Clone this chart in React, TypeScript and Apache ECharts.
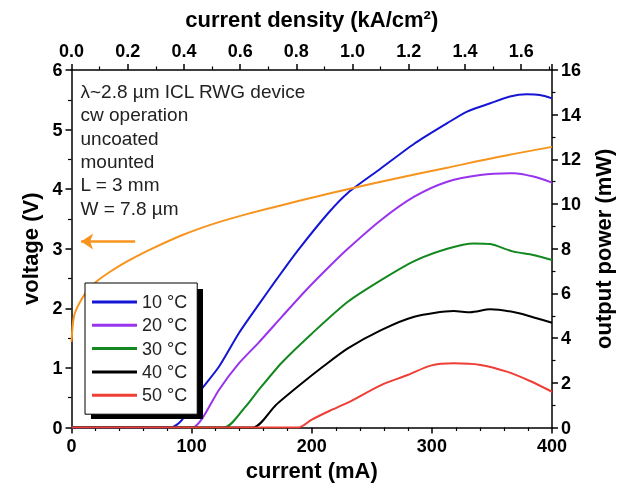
import React, { useEffect, useRef } from "react";
import * as echarts from "echarts";

const temps = ["10 °C", "20 °C", "30 °C", "40 °C", "50 °C"];
const colors = ["#1515d6", "#9933ee", "#13881f", "#000000", "#ef3e36"];
const voltColor = "#f7941d";

const i10 = [0, 82.8, 92, 103.5, 122.7, 139.3, 155.8, 171, 188.8, 213.6, 230, 257.7, 285.3, 312.8, 329.3, 348.6, 365, 379, 390, 400];
const p10 = [0, 0, 0.34, 1.38, 2.72, 4.22, 5.5, 6.65, 7.95, 9.59, 10.5, 11.6, 12.7, 13.62, 14.14, 14.51, 14.81, 14.91, 14.88, 14.73];

const i20 = [0, 100.7, 108.9, 122.7, 139.3, 155.8, 175, 194.4, 213.6, 230, 257.7, 285.3, 312.8, 340.3, 367.9, 384.5, 400];
const p20 = [0, 0, 0.41, 1.68, 2.87, 3.8, 4.95, 6.1, 7.15, 8.0, 9.29, 10.33, 11.0, 11.3, 11.38, 11.23, 10.96];

const i30 = [0, 126.9, 144.8, 155.8, 175, 200, 230, 257.7, 285.3, 312.8, 334.9, 348.6, 367.9, 384.5, 400];
const p30 = [0, 0, 0.93, 1.68, 2.9, 4.2, 5.63, 6.6, 7.45, 8.0, 8.24, 8.21, 7.87, 7.72, 7.5];

const i40 = [0, 151, 170, 190, 210, 230, 257.7, 285.3, 318.3, 332, 348.6, 370.7, 387.2, 400];
const p40 = [0, 0, 1.0, 1.9, 2.75, 3.54, 4.36, 4.96, 5.21, 5.16, 5.29, 5.14, 4.89, 4.69];

const i50 = [0, 189, 200, 215, 230, 257.7, 279.8, 299, 318.3, 340.3, 362.4, 381.7, 400];
const p50 = [0, 0, 0.35, 0.75, 1.11, 1.9, 2.35, 2.77, 2.87, 2.8, 2.5, 2.08, 1.6];

const iV = [0, 2, 5.6, 12.5, 20.8, 31.8, 45.6, 64.9, 92.4, 120, 147.5, 175, 202.6, 230, 270, 312.8, 355, 400];
const vV = [1.44, 1.86, 2.05, 2.28, 2.45, 2.61, 2.78, 2.98, 3.23, 3.43, 3.59, 3.73, 3.87, 4.0, 4.18, 4.36, 4.54, 4.71];

const currents = [i10, i20, i30, i40, i50];
const powers = [p10, p20, p30, p40, p50];

const notes = ["λ~2.8 µm ICL RWG device", "cw operation", "uncoated", "mounted", "L = 3 mm", "W = 7.8 µm"];
const arrowFrom = [53, 3.12];
const arrowTo = [8, 3.12];

const FONT = "'Liberation Sans', Arial, sans-serif";

export default function App() {
  const ref = useRef<HTMLDivElement>(null);
  useEffect(() => {
    if (!ref.current) return;
    const chart = echarts.init(ref.current, undefined, { renderer: "svg" });
    const axisCommon = {
      type: "value" as const,
      axisLine: { show: true, onZero: false, lineStyle: { color: "#000", width: 1.5 } },
      axisTick: { show: true, length: 6, lineStyle: { color: "#000", width: 1.5 } },
      minorTick: { show: true, length: 3.5, lineStyle: { color: "#000", width: 1.2 } },
      splitLine: { show: false },
      nameLocation: "middle" as const,
      nameTextStyle: { fontSize: 22, fontWeight: "bold" as const, color: "#000", fontFamily: FONT },
    };
    const labelCommon = { fontSize: 18, fontWeight: "bold" as const, color: "#000", fontFamily: FONT };
    const powerSeries = temps.map((t, k) => ({
      name: t,
      type: "line",
      xAxisIndex: 0,
      yAxisIndex: 1,
      data: currents[k].map((c, j) => [c, powers[k][j]]),
      symbol: "none",
      showSymbol: false,
      smooth: 0.25,
      lineStyle: { color: colors[k], width: 2 },
      itemStyle: { color: colors[k] },
    }));
    chart.setOption({
      animation: false,
      textStyle: { fontFamily: FONT },
      grid: { left: 71.5, right: 66.5, top: 70, bottom: 60.5, show: false },
      xAxis: [
        {
          ...axisCommon,
          position: "bottom",
          min: 0,
          max: 400,
          interval: 100,
          minorTick: { ...axisCommon.minorTick, splitNumber: 5 },
          name: "current (mA)",
          nameGap: 30,
          axisLabel: { ...labelCommon, margin: 9 },
        },
        {
          ...axisCommon,
          position: "top",
          min: 0,
          max: 1.7094,
          interval: 0.2,
          minorTick: { ...axisCommon.minorTick, splitNumber: 2 },
          name: "current density (kA/cm²)",
          nameGap: 40,
          axisLabel: {
            ...labelCommon,
            margin: 10,
            showMaxLabel: false,
            formatter: (v: number) => v.toFixed(1),
          },
        },
      ],
      yAxis: [
        {
          ...axisCommon,
          position: "left",
          min: 0,
          max: 6,
          interval: 1,
          minorTick: { ...axisCommon.minorTick, splitNumber: 2 },
          name: "voltage (V)",
          nameGap: 30,
          nameRotate: 90,
          axisLabel: { ...labelCommon, margin: 9 },
        },
        {
          ...axisCommon,
          position: "right",
          min: 0,
          max: 16,
          interval: 2,
          minorTick: { ...axisCommon.minorTick, splitNumber: 2 },
          name: "output power (mW)",
          nameGap: 40,
          nameRotate: 90,
          axisLabel: { ...labelCommon, margin: 9 },
        },
      ],
      legend: {
        data: temps,
        orient: "vertical",
        left: 85,
        top: 283,
        icon: "rect",
        itemWidth: 45,
        itemHeight: 3,
        itemGap: 5.3,
        backgroundColor: "#fff",
        borderColor: "#000",
        borderWidth: 1,
        borderRadius: 0,
        padding: [10, 10, 10, 7],
        textStyle: { fontSize: 18, color: "#222", lineHeight: 18, fontFamily: FONT },
        z: 5,
      },
      graphic: [
        {
          type: "rect",
          z: 4,
          shape: { x: 91, y: 289, width: 112, height: 130 },
          style: { fill: "#000" },
        },
        {
          type: "text",
          x: 80.5,
          y: 80,
          z: 10,
          style: {
            text: notes.join("\n"),
            font: `19px ${FONT}`,
            lineHeight: 23.3,
            fill: "#222",
          },
        },
      ],
      series: [
        ...powerSeries,
        {
          name: "voltage",
          type: "line",
          xAxisIndex: 0,
          yAxisIndex: 0,
          data: iV.map((c, j) => [c, vV[j]]),
          symbol: "none",
          smooth: 0.3,
          lineStyle: { color: voltColor, width: 2 },
          itemStyle: { color: voltColor },
          z: 3,
          markLine: {
            silent: true,
            symbol: ["none", "arrow"],
            symbolSize: [12, 12],
            label: { show: false },
            lineStyle: { color: voltColor, width: 2.5, type: "solid" },
            data: [[{ coord: arrowFrom }, { coord: arrowTo }]],
          },
        },
      ],
    });
    return () => chart.dispose();
  }, []);
  return (
    <div
      ref={ref}
      style={{ position: "fixed", left: 0, top: 0, width: 622, height: 488 }}
    />
  );
}
